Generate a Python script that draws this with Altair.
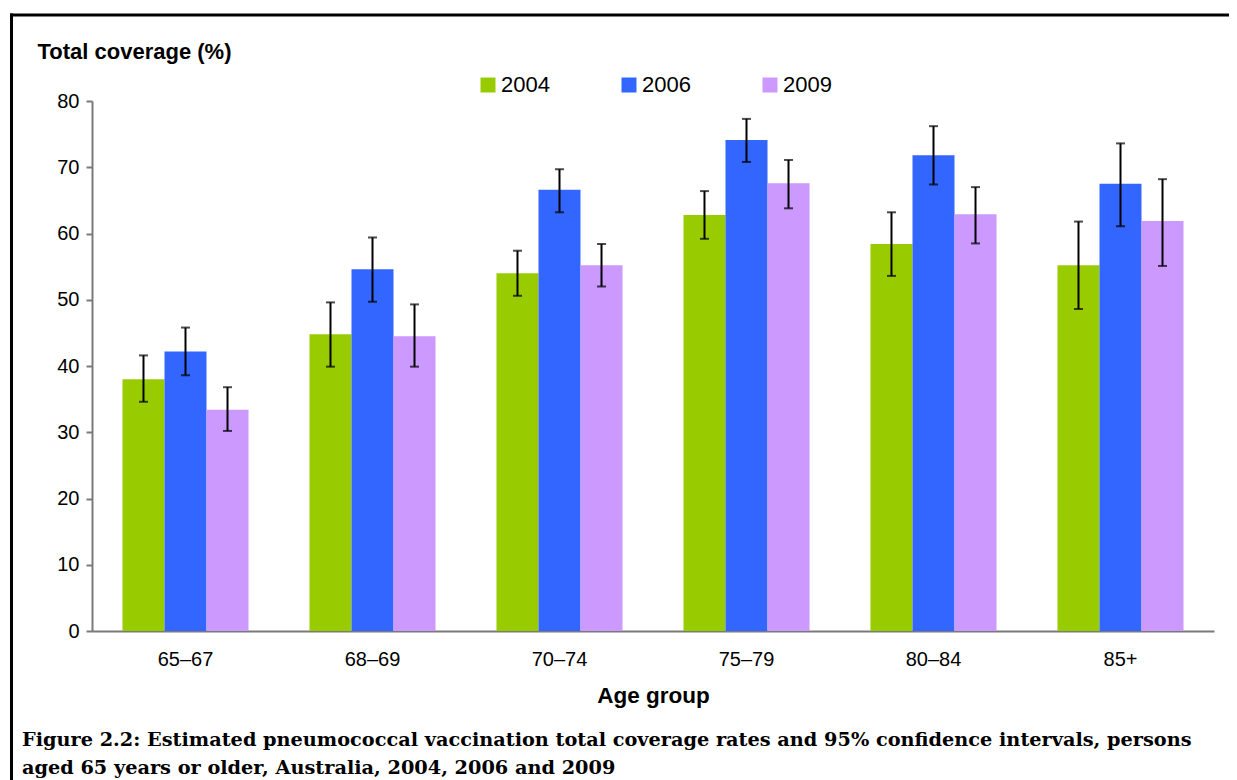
import altair as alt
import pandas as pd

groups = ["65–67", "68–69", "70–74", "75–79", "80–84", "85+"]
years = ["2004", "2006", "2009"]
colors = ["#99CC00", "#3366FF", "#CC99FF"]

v2004 = [38.0, 44.8, 54.0, 62.8, 58.4, 55.2]
lo2004 = [34.6, 39.9, 50.6, 59.2, 53.6, 48.6]
hi2004 = [41.6, 49.6, 57.4, 66.4, 63.2, 61.8]

v2006 = [42.2, 54.6, 66.6, 74.1, 71.8, 67.5]
lo2006 = [38.6, 49.7, 63.2, 70.8, 67.4, 61.1]
hi2006 = [45.8, 59.4, 69.7, 77.3, 76.2, 73.6]

v2009 = [33.4, 44.5, 55.2, 67.6, 62.9, 61.9]
lo2009 = [30.2, 39.9, 52.0, 63.8, 58.5, 55.1]
hi2009 = [36.8, 49.3, 58.4, 71.1, 67.0, 68.2]

y_title = "Total coverage (%)"
x_title = "Age group"
caption1 = ("Figure 2.2: Estimated pneumococcal vaccination total coverage rates "
            "and 95% confidence intervals, persons")
caption2 = "aged 65 years or older, Australia, 2004, 2006 and 2009"

rows = []
for yr, vals, los, his in [("2004", v2004, lo2004, hi2004),
                           ("2006", v2006, lo2006, hi2006),
                           ("2009", v2009, lo2009, hi2009)]:
    for g, v, lo, hi in zip(groups, vals, los, his):
        rows.append({"group": g, "year": yr, "value": v, "lo": lo, "hi": hi})
df = pd.DataFrame(rows)

SANS = "Liberation Sans"

x_enc = alt.X(
    "group:N", sort=groups,
    scale=alt.Scale(paddingInner=0.326, paddingOuter=0.163),
    axis=alt.Axis(
        title=x_title, labelAngle=0, labelFont=SANS, labelFontSize=20,
        labelColor="black", labelPadding=18, ticks=False,
        domainColor="#7a7a7a", domainWidth=2,
        titleFont=SANS, titleFontSize=22.5, titleFontWeight="bold",
        titleColor="black", titleY=71, titleBaseline="alphabetic",
    ),
)
xo_enc = alt.XOffset("year:N", sort=years)
y_scale = alt.Scale(domain=[0, 80], nice=False, zero=True)
y_axis = alt.Axis(
    values=[0, 10, 20, 30, 40, 50, 60, 70, 80], grid=False,
    labelFont=SANS, labelFontSize=20, labelColor="black", labelPadding=7,
    tickSize=6, tickColor="#7a7a7a", tickWidth=2,
    domainColor="#7a7a7a", domainWidth=2,
    titleFont=SANS, titleFontSize=22, titleFontWeight="bold", titleColor="black",
    titleAngle=0, titleAlign="left", titleBaseline="alphabetic",
    titleX=-55, titleY=-43,
)

base = alt.Chart(df)

bars = base.mark_bar().encode(
    x=x_enc,
    xOffset=xo_enc,
    y=alt.Y("value:Q", scale=y_scale, axis=y_axis, title=y_title),
    color=alt.Color(
        "year:N", sort=years,
        scale=alt.Scale(domain=years, range=colors),
        legend=alt.Legend(
            title=None, orient="none", direction="horizontal",
            legendX=385, legendY=-27, symbolType="square", symbolSize=225,
            symbolStrokeWidth=0, labelFont=SANS, labelFontSize=22,
            labelColor="black", labelOffset=2, columnPadding=68,
        ),
    ),
)

err = base.mark_rule(color="black", strokeWidth=2).encode(
    x=x_enc, xOffset=xo_enc,
    y=alt.Y("lo:Q", scale=y_scale, axis=y_axis, title=y_title),
    y2="hi:Q",
)
cap_lo = base.mark_tick(color="black", thickness=2, size=9, orient="horizontal").encode(
    x=x_enc, xOffset=xo_enc,
    y=alt.Y("lo:Q", scale=y_scale, axis=y_axis, title=y_title),
)
cap_hi = base.mark_tick(color="black", thickness=2, size=9, orient="horizontal").encode(
    x=x_enc, xOffset=xo_enc,
    y=alt.Y("hi:Q", scale=y_scale, axis=y_axis, title=y_title),
)

one = alt.Chart(pd.DataFrame({"k": [0]}))
frame_top = one.mark_rule(color="black", strokeWidth=3).encode(
    x=alt.value(-82), x2=alt.value(1170), y=alt.value(-86)
)
frame_left = one.mark_rule(color="black", strokeWidth=3).encode(
    x=alt.value(-80.5), y=alt.value(-87.5), y2=alt.value(720)
)
cap_text1 = one.mark_text(
    align="left", baseline="alphabetic", font="DejaVu Serif",
    fontWeight="bold", fontSize=19.3, color="black",
).encode(x=alt.value(-70), y=alt.value(645), text=alt.value(caption1))
cap_text2 = one.mark_text(
    align="left", baseline="alphabetic", font="DejaVu Serif",
    fontWeight="bold", fontSize=19.3, color="black",
).encode(x=alt.value(-70), y=alt.value(673), text=alt.value(caption2))

chart = alt.layer(
    bars, err, cap_lo, cap_hi, frame_top, frame_left, cap_text1, cap_text2
).properties(
    width=1122, height=530,
    padding={"left": 84, "top": 93, "right": 15, "bottom": 149},
    autosize=alt.AutoSizeParams(type="none"),
    background="white",
).configure_view(stroke=None)

chart.save("out.html", embed_options={"renderer": "svg", "actions": False})
